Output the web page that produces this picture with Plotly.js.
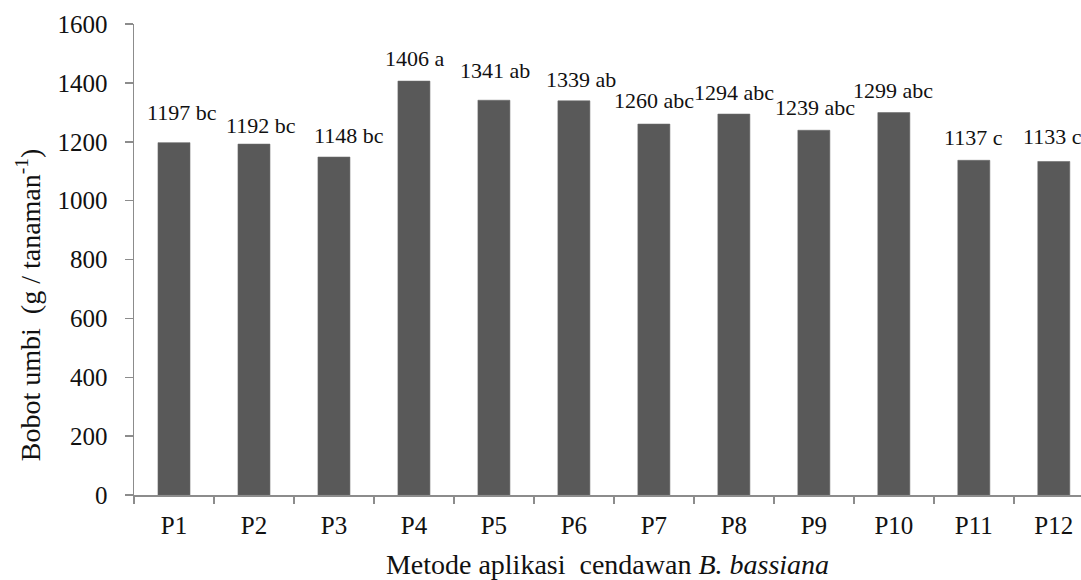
<!DOCTYPE html>
<html>
<head>
<meta charset="utf-8">
<script src="https://cdn.plot.ly/plotly-3.0.1.min.js"></script>
<style>html,body{margin:0;padding:0;background:#fff;}#chart{width:1081px;height:580px;}</style>
</head>
<body>
<div id="chart"></div>
<script>
// Data
const categories = ["P1","P2","P3","P4","P5","P6","P7","P8","P9","P10","P11","P12"];
const values = [1197, 1192, 1148, 1406, 1341, 1339, 1260, 1294, 1239, 1299, 1137, 1133];
const letters = ["bc","bc","bc","a","ab","ab","abc","abc","abc","abc","c","c"];
const yTicks = [0, 200, 400, 600, 800, 1000, 1200, 1400, 1600];
const yTitle = "Bobot umbi &nbsp;(g / tanaman<sup>-1</sup>)";
const xTitle = "Metode aplikasi &nbsp;cendawan <i>B. bassiana</i>";

// Label placement (styling only, pixels)
const labelLift = [30, 19, 22, 23, 30, 21, 24, 22, 23, 22, 23, 25];
const labelNudge = [8, 7, 15, 1, 1, 7, 0, 0, 1, -1, 0, -1];

const FONT = "Liberation Serif";

const trace = {
  type: "bar",
  x: categories,
  y: values,
  width: 0.4,
  marker: {color: "#595959", line: {color: "#6a6a6a", width: 0.6}},
  hoverinfo: "x+y"
};

const annotations = categories.map((c, i) => ({
  x: c, y: values[i], xref: "x", yref: "y",
  text: values[i] + " " + letters[i],
  showarrow: false,
  xanchor: "center", yanchor: "middle",
  xshift: labelNudge[i], yshift: labelLift[i],
  font: {family: FONT, size: 22, color: "#111"}
}));

// y-axis title placed as a rotated annotation (sits lower than the plot centre in the reference)
annotations.push({
  xref: "paper", yref: "paper", x: 0, y: 0.403,
  xanchor: "center", yanchor: "middle",
  xshift: -106, textangle: -90,
  text: yTitle, showarrow: false,
  font: {family: FONT, size: 28, color: "#111"}
});

const layout = {
  width: 1081, height: 580,
  margin: {l: 134, r: 0, t: 24, b: 85, pad: 0},
  paper_bgcolor: "#fff", plot_bgcolor: "#fff",
  showlegend: false,
  font: {family: FONT, color: "#111"},
  bargap: 0.6,
  xaxis: {
    type: "category",
    range: [-0.5, 11.34],
    showline: true, linecolor: "#8c8c8c", linewidth: 1.5,
    ticks: "outside", tickson: "boundaries", ticklen: 7, tickwidth: 1.5, tickcolor: "#8c8c8c",
    ticklabelstandoff: 7,
    showgrid: false, zeroline: false,
    tickfont: {family: FONT, size: 25, color: "#111"},
    title: {text: xTitle, font: {family: FONT, size: 28, color: "#111"}, standoff: 17},
    fixedrange: true
  },
  yaxis: {
    range: [0, 1600],
    tickvals: yTicks,
    ticktext: yTicks.map(String),
    showline: true, linecolor: "#8c8c8c", linewidth: 1.5,
    ticks: "outside", ticklen: 8, tickwidth: 1.5, tickcolor: "#8c8c8c",
    ticklabelstandoff: 12,
    showgrid: false, zeroline: false,
    tickfont: {family: FONT, size: 25, color: "#111"},
    fixedrange: true
  },
  annotations: annotations
};

Plotly.newPlot("chart", [trace], layout, {displayModeBar: false, staticPlot: true});
</script>
</body>
</html>
